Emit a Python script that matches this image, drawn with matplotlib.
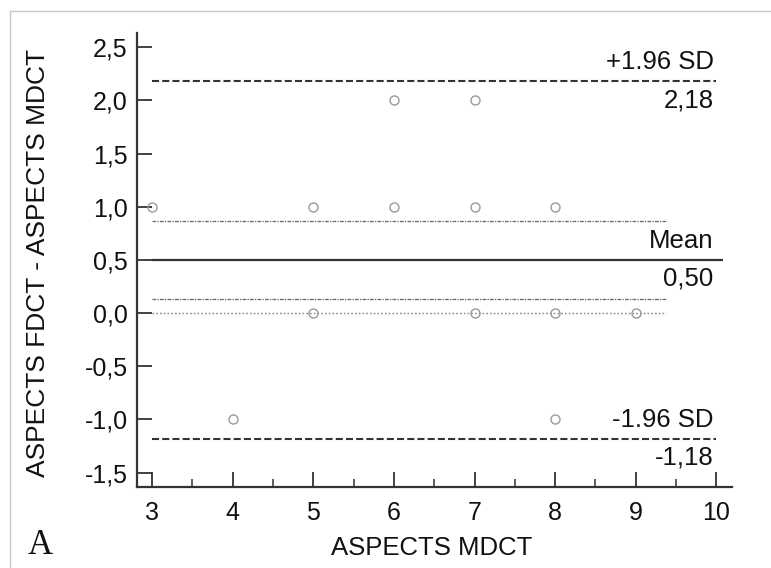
import matplotlib
matplotlib.use("Agg")
import matplotlib.pyplot as plt
from matplotlib.lines import Line2D
import matplotlib.ticker as mticker

# ---- data ----
mdct = [3, 4, 5, 5, 6, 6, 7, 7, 7, 8, 8, 8, 9]
diff = [1, -1, 1, 0, 2, 1, 2, 1, 0, 1, 0, -1, 0]
mean_diff = 0.50
upper_loa = 2.18
lower_loa = -1.18
ci_mean = [0.87, 0.13]
x_ticks = [3, 4, 5, 6, 7, 8, 9, 10]
y_ticks = [-1.5, -1.0, -0.5, 0.0, 0.5, 1.0, 1.5, 2.0, 2.5]
line_labels_top = ["+1.96 SD", "Mean", "-1.96 SD"]
line_labels_bot = ["2,18", "0,50", "-1,18"]
x_label = "ASPECTS MDCT"
y_label = "ASPECTS FDCT - ASPECTS MDCT"
panel = "A"

plt.rcParams['font.family'] = ['Liberation Sans', 'DejaVu Sans']

W, H = 771, 568
fig = plt.figure(figsize=(W / 100, H / 100), dpi=100)
ax = fig.add_axes([137.3 / W, 1 - 486.7 / H, (731.7 - 137.3) / W, (486.7 - 33) / H])

dark = '#333333'
ax.set_xlim(2.817, 10.19)
ax.set_ylim(-1.632, 2.634)

x0, x1 = 3, 10
xmean_end = 10.08
xci = 9.38
# limits of agreement
for v in [upper_loa, lower_loa]:
    ax.plot([x0, x1], [v, v], color=dark, lw=1.5, dashes=(3.4, 1.5))
# mean line
ax.plot([x0, xmean_end], [mean_diff, mean_diff], color=dark, lw=1.6, solid_capstyle='butt')
# CI of mean
for v in ci_mean:
    ax.plot([x0, xci], [v, v], color='#666666', lw=0.9, dashes=(3, 1, 1, 1))
# zero line
ax.plot([x0, xci], [0, 0], color='#888888', lw=1.0, dashes=(1.2, 1.5))

# points
ax.plot(mdct, diff, linestyle='none', marker='o', markersize=6.5,
        markerfacecolor='none', markeredgecolor='#9a9a9a', markeredgewidth=1.0)

# labels for lines
fs_lab = 18.5
for v, t, b in zip([upper_loa, mean_diff, lower_loa], line_labels_top, line_labels_bot):
    ax.annotate(t, xy=(x1, v), xytext=(-2, 5), textcoords='offset points',
                ha='right', va='bottom', fontsize=fs_lab, color='#111111')
    ax.annotate(b, xy=(x1, v), xytext=(-2, -5), textcoords='offset points',
                ha='right', va='top', fontsize=fs_lab, color='#111111')

# axes styling
for s in ['top', 'right']:
    ax.spines[s].set_visible(False)
for s in ['left', 'bottom']:
    ax.spines[s].set_color(dark)
    ax.spines[s].set_linewidth(1.6)

fs = 18
ax.set_xticks(x_ticks)
ax.set_yticks(y_ticks)
ax.xaxis.set_minor_locator(mticker.FixedLocator([v + 0.5 for v in x_ticks[:-1]]))
ax.set_yticklabels([f"{v:.1f}".replace('.', ',') for v in y_ticks])
ax.set_xticklabels([str(v) for v in x_ticks])
ax.tick_params(axis='both', which='major', direction='in', length=11, width=1.3,
               colors=dark, labelcolor='#111111', labelsize=fs)
ax.tick_params(axis='x', which='minor', direction='in', length=6, width=1.1, colors=dark)
ax.tick_params(axis='x', which='major', pad=10)
ax.tick_params(axis='y', which='major', pad=7)

fig.text(432 / W, 1 - 548 / H, x_label, ha='center', va='center', fontsize=18.5, color='#111111')
fig.text(38 / W, 1 - 263 / H, y_label, ha='center', va='center', rotation=90,
         fontsize=19, color='#111111')
fig.text(40 / W, 1 - 546 / H, panel, ha='center', va='center', fontsize=25,
         family=['Liberation Serif', 'DejaVu Serif'], color='#111111')

# image border lines
fig.add_artist(Line2D([10 / W, 10 / W], [0, 1 - 11 / H], transform=fig.transFigure,
                      color='#c8c8c8', lw=1.0))
fig.add_artist(Line2D([10 / W, 770 / W], [1 - 11 / H, 1 - 11 / H], transform=fig.transFigure,
                      color='#c8c8c8', lw=1.0))

fig.savefig('out.png', dpi=100)
